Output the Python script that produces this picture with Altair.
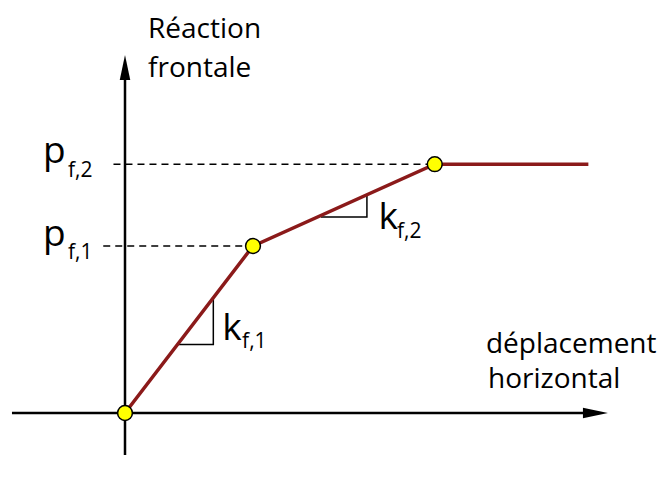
import altair as alt
import pandas as pd

# --- chart values (schematic units) ---
disp = [0.0, 1.0, 2.42, 3.62]          # horizontal displacement
force = [0.0, 1.0, 1.49, 1.49]         # frontal reaction
key_idx = [0, 1, 2]                    # yellow key points

# dashed reference lines (start x, level)
dash_x0 = [-0.09, -0.17]
dash_y = [1.49, 1.0]
dash_x1 = [2.42, 1.0]

# slope triangles: horizontal leg start, corner x, bottom y, top y
tri_id = ["k1", "k2"]
tri_xa = [0.41, 1.53]
tri_xb = [0.69, 1.89]
tri_yb = [0.41, 1.174]
tri_yt = [0.69, 1.307]

# axes (x from, x to, y from, y to)
ax_x0 = [-0.883, 0.0]
ax_x1 = [3.58, 0.0]
ax_y0 = [0.0, -0.251]
ax_y1 = [0.0, 2.006]
arrow_x = [3.773, 0.0]
arrow_y = [0.0, 2.144]

# labels
lab_text = ["p", "f,2", "p", "f,1", "k", "f,1", "k", "f,2",
            "Réaction", "frontale", "déplacement", "horizontal"]
lab_x = [-0.64, -0.445, -0.64, -0.445, 0.76, 0.915, 1.98, 2.125,
         0.18, 0.18, 2.82, 2.836]
lab_y = [1.497, 1.413, 1.0, 0.922, 0.437, 0.389, 1.102, 1.048,
         2.245, 2.012, 0.359, 0.150]
lab_fs = [37, 21, 37, 21, 37, 21, 37, 21, 28, 28, 28, 28]

W, H = 655, 469
PX, PY = 128.0, 167.0       # pixels per unit
OX, OY = 117.0, 405.0       # origin inside plot area
xdom = [-OX / PX, (W - OX) / PX]
ydom = [-(H - OY) / PY, OY / PY]
xs = alt.Scale(domain=xdom, nice=False, zero=False)
ys = alt.Scale(domain=ydom, nice=False, zero=False)
FONT = "Open Sans"

curve = pd.DataFrame({"x": disp, "y": force, "o": range(len(disp))})
keys = curve.iloc[key_idx]
dashes = pd.DataFrame({"x": dash_x0, "x2": dash_x1, "y": dash_y})
tri_rows = []
for i, t in enumerate(tri_id):
    tri_rows += [
        {"id": t, "o": 0, "x": tri_xa[i], "y": tri_yb[i]},
        {"id": t, "o": 1, "x": tri_xb[i], "y": tri_yb[i]},
        {"id": t, "o": 2, "x": tri_xb[i], "y": tri_yt[i]},
    ]
tris = pd.DataFrame(tri_rows)
axes = pd.DataFrame({"x": ax_x0, "x2": ax_x1, "y": ax_y0, "y2": ax_y1})
arr_h = pd.DataFrame({"x": [arrow_x[0]], "y": [arrow_y[0]]})
arr_v = pd.DataFrame({"x": [arrow_x[1]], "y": [arrow_y[1]]})
labels = pd.DataFrame({"t": lab_text, "x": lab_x, "y": lab_y, "fs": lab_fs})

X = lambda f="x": alt.X(f"{f}:Q", scale=xs, axis=None)
Y = lambda f="y": alt.Y(f"{f}:Q", scale=ys, axis=None)

axis_rules = alt.Chart(axes).mark_rule(color="black", strokeWidth=2.5).encode(
    x=X(), x2="x2:Q", y=Y(), y2="y2:Q")
head_h = alt.Chart(arr_h).mark_point(
    shape="M0,0L-2,-0.42L-2,0.42Z", filled=True, color="black", opacity=1, size=625
).encode(x=X(), y=Y())
head_v = alt.Chart(arr_v).mark_point(
    shape="M0,0L-0.42,2L0.42,2Z", filled=True, color="black", opacity=1, size=625
).encode(x=X(), y=Y())
dash_rules = alt.Chart(dashes).mark_rule(
    color="black", strokeWidth=1.5, strokeDash=[7, 5]).encode(
    x=X(), x2="x2:Q", y=Y())
tri_lines = alt.Chart(tris).mark_line(color="black", strokeWidth=1.5).encode(
    x=X(), y=Y(), detail="id:N", order="o:Q")
line = alt.Chart(curve).mark_line(color="#8B1A1A", strokeWidth=3.5).encode(
    x=X(), y=Y(), order="o:Q")
pts = alt.Chart(keys).mark_point(
    filled=True, fill="#FFFF00", stroke="black", strokeWidth=1.5, opacity=1, size=220
).encode(x=X(), y=Y())
texts = alt.Chart(labels).mark_text(
    align="left", baseline="alphabetic", font=FONT, color="black"
).encode(x=X(), y=Y(), text="t:N", size=alt.Size("fs:Q", scale=None))

chart = alt.layer(axis_rules, head_h, head_v, dash_rules, tri_lines, line, pts, texts).properties(
    width=W, height=H, padding=0, autosize=alt.AutoSizeParams(type="none")
).configure_view(stroke=None)

chart.save("out.html", embed_options={"renderer": "svg", "actions": False})
